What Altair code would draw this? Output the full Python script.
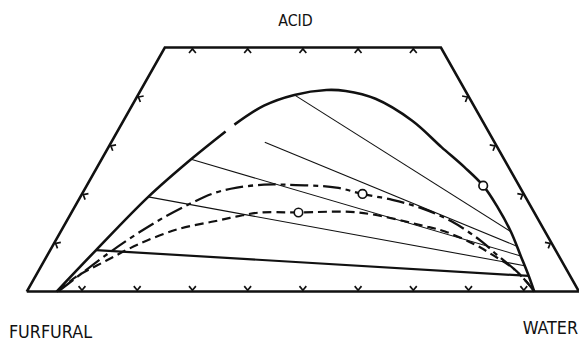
import altair as alt
import pandas as pd

# ---- data (weight %, furfural = 100 - water - acid) ----
frame_water = [0, 0, 50, 100, 0]
frame_acid = [0, 50, 50, 0, 0]

# solubility (binodal) curve, drawn in two pieces (small break on the left branch)
binodal_water = [5.4, 8.3, 12.3, 16.2, 19.6, 20.5, 23.9, 28.3, 33.6, 37.2, 43.4, 52.3,
                 60.3, 66.5, 71.8, 76.5, 81.5, 85.8, 89.3, 91.9]
binodal_acid = [0.0, 8.5, 19.4, 27.1, 32.8, 34.2, 38.1, 40.3, 41.3, 41.1, 39.5, 35.0,
                29.6, 25.5, 21.7, 17.4, 12.3, 7.3, 3.2, 0.0]
binodal_part = [1, 1, 1, 1, 1, 2, 2, 2, 2, 2, 2, 2, 2, 2, 2, 2, 2, 2, 2, 2]

# tie lines (left end, right end)
tie_id = [1, 2, 3, 4, 5]
tie_water_left = [28.3, 27.8, 16.2, 12.3, 8.3]
tie_acid_left = [40.3, 30.6, 27.1, 19.4, 8.5]
tie_water_right = [81.5, 84.1, 85.8, 87.5, 89.3]
tie_acid_right = [12.3, 9.3, 7.3, 5.3, 3.2]

# dash-dot curve
dashdot_water = [5.8, 7.1, 11.2, 16.2, 20.3, 23.9, 27.4, 32.0, 36.1, 45.4, 50.8, 56.8,
                 62.9, 69.7, 77.2, 81.4, 85.8, 89.5, 91.9]
dashdot_acid = [0.2, 2.2, 8.3, 14.2, 17.8, 20.2, 21.3, 21.9, 21.9, 21.3, 20.0, 18.8,
                17.1, 14.4, 10.3, 7.5, 4.7, 2.0, 0.0]

# short-dash curve
dash_water = [5.7, 7.4, 11.2, 15.4, 21.0, 26.8, 30.4, 34.1, 41.1, 52.0, 65.4, 69.6,
              76.2, 81.0, 85.8, 89.5, 91.9]
dash_acid = [0.2, 3.0, 6.3, 9.7, 12.8, 14.4, 15.4, 16.2, 16.2, 16.2, 13.4, 12.3,
             9.7, 7.3, 4.7, 2.0, 0.0]

# open circles
circle_water = [71.8, 50.8, 41.1]
circle_acid = [21.7, 20.0, 16.2]

# edge tick marks
bottom_tick_water = [10, 20, 30, 40, 50, 60, 70, 80, 90]
top_tick_water = [5, 15, 25, 35, 45]
side_tick_acid = [10, 20, 30, 40]

corner_labels = ["ACID", "FURFURAL", "WATER"]

# ---- build tables ----
def table(water, acid, **extra):
    d = {"water": water, "acid": acid, "i": list(range(len(water)))}
    d.update(extra)
    return pd.DataFrame(d)

frame_df = table(frame_water, frame_acid)
binodal_df = table(binodal_water, binodal_acid, part=binodal_part)
tie_rows = []
for k, t in enumerate(tie_id):
    tie_rows.append({"tie": t, "water": tie_water_left[k], "acid": tie_acid_left[k], "i": 0})
    tie_rows.append({"tie": t, "water": tie_water_right[k], "acid": tie_acid_right[k], "i": 1})
tie_df = pd.DataFrame(tie_rows)
dashdot_df = table(dashdot_water, dashdot_acid)
dash_df = table(dash_water, dash_acid)
circle_df = table(circle_water, circle_acid)
bottom_df = table(bottom_tick_water, [0] * len(bottom_tick_water))
top_df = table(top_tick_water, [50] * len(top_tick_water))
left_df = table([0] * len(side_tick_acid), side_tick_acid)
right_df = table([100 - a for a in side_tick_acid], side_tick_acid)

INK = "#111111"
xs = alt.Scale(domain=[0, 100], nice=False, zero=False)
ys = alt.Scale(domain=[0, 50], nice=False, zero=False)
X = alt.X("X:Q", scale=xs, axis=None)
Y = alt.Y("acid:Q", scale=ys, axis=None)


def base(df):
    return alt.Chart(df).transform_calculate(X="datum.water + datum.acid / 2")


frame = base(frame_df).mark_line(color=INK, strokeWidth=2.6, strokeJoin="miter").encode(
    x=X, y=Y, order="i:Q")

binodal = base(binodal_df).mark_line(color=INK, strokeWidth=2.6, interpolate="catmull-rom").encode(
    x=X, y=Y, detail="part:N", order="i:Q")

ties = base(tie_df).transform_filter("datum.tie < 5").mark_line(color=INK, strokeWidth=1.1).encode(
    x=X, y=Y, detail="tie:N", order="i:Q")
tie_low = base(tie_df).transform_filter("datum.tie == 5").mark_line(color=INK, strokeWidth=2.2).encode(
    x=X, y=Y, detail="tie:N", order="i:Q")

dashdot = base(dashdot_df).mark_line(color=INK, strokeWidth=2.3, interpolate="catmull-rom",
                                     strokeDash=[18, 5, 5, 5]).encode(x=X, y=Y, order="i:Q")
dash = base(dash_df).mark_line(color=INK, strokeWidth=2.2, interpolate="catmull-rom",
                               strokeDash=[9, 5]).encode(x=X, y=Y, order="i:Q")

circles = base(circle_df).mark_point(shape="circle", size=75, filled=True, fill="white",
                                     stroke=INK, strokeWidth=1.7, opacity=1).encode(x=X, y=Y)

V_UP = "M-1,-1.6L0,-0.4L1,-1.6M0,-0.4L0,0"
V_DOWN = "M-1,1.6L0,0.4L1,1.6M0,0.4L0,0"
tick_style = dict(filled=False, stroke=INK, strokeWidth=1.7, size=48, opacity=1)
bottom_ticks = base(bottom_df).mark_point(shape=V_UP, **tick_style).encode(x=X, y=Y)
top_ticks = base(top_df).mark_point(shape=V_DOWN, **tick_style).encode(x=X, y=Y)
left_ticks = base(left_df).mark_point(shape=V_UP, angle=119, **tick_style).encode(x=X, y=Y)
right_ticks = base(right_df).mark_point(shape=V_UP, angle=241, **tick_style).encode(x=X, y=Y)

FONT = "'Liberation Sans Narrow', 'DejaVu Sans Condensed', 'Liberation Sans', sans-serif"
lab_df = pd.DataFrame({"t": corner_labels})


def label(idx, px, py, size):
    return alt.Chart(lab_df).transform_filter(f"datum.t == '{corner_labels[idx]}'").mark_text(
        font=FONT, fontSize=size, color=INK, align="center", baseline="middle").encode(
        x=alt.value(px), y=alt.value(py), text="t:N")


labels = label(0, 272, -27, 16) + label(1, 24, 289, 18) + label(2, 530, 285, 18)

chart = alt.layer(
    frame, ties, tie_low, binodal, dashdot, dash, circles,
    bottom_ticks, top_ticks, left_ticks, right_ticks, labels
).properties(
    width=559, height=247,
    padding={"left": 19, "top": 38, "right": 0, "bottom": 48},
    autosize=alt.AutoSizeParams(type="none"),
).configure_view(stroke=None)

chart.save("out.html", embed_options={"renderer": "svg", "actions": False})
